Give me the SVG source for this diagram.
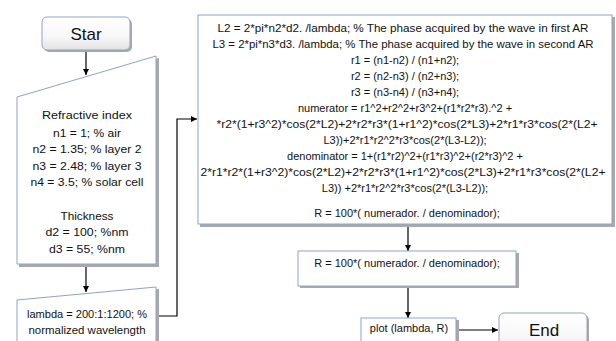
<svg xmlns="http://www.w3.org/2000/svg" width="616" height="341" viewBox="0 0 616 341">
  <style>
    .box { fill: #ffffff; stroke: #8ea3c9; stroke-width: 1; }
    .shadow { fill: #a9a9a9; }
    .txt { font-family: "Liberation Sans", Arial, sans-serif; font-size: 11px; fill: #111111; text-anchor: middle; }
    .big { font-size: 17px; }
    .conn { fill: none; stroke: #000000; stroke-width: 1.2; }
  </style>
  <defs>
    <linearGradient id="termFill" x1="0" y1="0" x2="0" y2="1">
      <stop offset="0" stop-color="#ffffff"/>
      <stop offset="0.6" stop-color="#f7f7f7"/>
      <stop offset="1" stop-color="#e2e2e2"/>
    </linearGradient>
    <marker id="arrow" markerWidth="6" markerHeight="6" refX="6" refY="3" orient="auto" markerUnits="userSpaceOnUse">
      <path d="M0,0 L6,3 L0,6 z" fill="#000000"/>
    </marker>
  </defs>

  <rect width="616" height="341" fill="#ffffff"/>

  <!-- connectors -->
  <g id="connectors">
    <line class="conn" x1="86" y1="50" x2="86" y2="75" marker-end="url(#arrow)"/>
    <line class="conn" x1="86" y1="266" x2="86" y2="292" marker-end="url(#arrow)"/>
    <path class="conn" d="M157,316 H177 V119 H197" marker-end="url(#arrow)"/>
    <line class="conn" x1="408" y1="226" x2="408" y2="251" marker-end="url(#arrow)"/>
    <line class="conn" x1="408" y1="288" x2="408" y2="318" marker-end="url(#arrow)"/>
    <line class="conn" x1="458" y1="330" x2="498" y2="330" marker-end="url(#arrow)"/>
  </g>

  <!-- start terminal -->
  <g id="start">
    <rect class="shadow" x="44" y="19" width="88" height="33" rx="5"/>
    <rect x="42" y="17" width="88" height="33" rx="5" fill="url(#termFill)" stroke="#8ea3c9" stroke-width="1"/>
    <text class="txt big" x="86" y="40">Star</text>
  </g>

  <!-- input: refractive indices and thicknesses -->
  <g id="inputs">
    <polygon class="shadow" points="19,99 159,58 159,267 19,267"/>
    <polygon class="box" points="17,97 156,56 156,264 17,264"/>
    <text class="txt" x="87" y="119" textLength="90" lengthAdjust="spacingAndGlyphs">Refractive index</text>
    <text class="txt" x="87" y="137" textLength="68" lengthAdjust="spacingAndGlyphs">n1 = 1; % air</text>
    <text class="txt" x="87" y="153" textLength="109" lengthAdjust="spacingAndGlyphs">n2 = 1.35; % layer 2</text>
    <text class="txt" x="87" y="170" textLength="109" lengthAdjust="spacingAndGlyphs">n3 = 2.48; % layer 3</text>
    <text class="txt" x="87" y="186" textLength="113" lengthAdjust="spacingAndGlyphs">n4 = 3.5; % solar cell</text>
    <text class="txt" x="87" y="220" textLength="53" lengthAdjust="spacingAndGlyphs">Thickness</text>
    <text class="txt" x="87" y="236" textLength="83" lengthAdjust="spacingAndGlyphs">d2 = 100; %nm</text>
    <text class="txt" x="87" y="253" textLength="76" lengthAdjust="spacingAndGlyphs">d3 = 55; %nm</text>
  </g>

  <!-- input: wavelength range -->
  <g id="wavelength">
    <polygon class="shadow" points="19,302 159,289 159,345 19,345"/>
    <polygon class="box" points="17,300 156,287 156,345 17,345"/>
    <text class="txt" x="87" y="318" textLength="120" lengthAdjust="spacingAndGlyphs">lambda = 200:1:1200; %</text>
    <text class="txt" x="87" y="334" textLength="117" lengthAdjust="spacingAndGlyphs">normalized wavelength</text>
  </g>

  <!-- reflectance computation -->
  <g id="compute">
    <rect class="shadow" x="200" y="17" width="415" height="210"/>
    <rect class="box" x="198" y="15" width="414" height="209"/>
    <text class="txt" x="403" y="32" textLength="371" lengthAdjust="spacingAndGlyphs">L2 = 2*pi*n2*d2. /lambda; % The phase acquired by the wave in first AR</text>
    <text class="txt" x="403" y="48" textLength="381" lengthAdjust="spacingAndGlyphs">L3 = 2*pi*n3*d3. /lambda; % The phase acquired by the wave in second AR</text>
    <text class="txt" x="405" y="64">r1 = (n1-n2) / (n1+n2);</text>
    <text class="txt" x="405" y="80">r2 = (n2-n3) / (n2+n3);</text>
    <text class="txt" x="405" y="96">r3 = (n3-n4) / (n3+n4);</text>
    <text class="txt" x="405" y="112">numerator = r1^2+r2^2+r3^2+(r1*r2*r3).^2 +</text>
    <text class="txt" x="407" y="128" textLength="381" lengthAdjust="spacingAndGlyphs">*r2*(1+r3^2)*cos(2*L2)+2*r2*r3*(1+r1^2)*cos(2*L3)+2*r1*r3*cos(2*(L2+</text>
    <text class="txt" x="405" y="144">L3))+2*r1*r2^2*r3*cos(2*(L3-L2));</text>
    <text class="txt" x="405" y="160">denominator = 1+(r1*r2)^2+(r1*r3)^2+(r2*r3)^2 +</text>
    <text class="txt" x="403" y="176" textLength="405" lengthAdjust="spacingAndGlyphs">2*r1*r2*(1+r3^2)*cos(2*L2)+2*r2*r3*(1+r1^2)*cos(2*L3)+2*r1*r3*cos(2*(L2+</text>
    <text class="txt" x="405" y="192">L3)) +2*r1*r2^2*r3*cos(2*(L3-L2));</text>
    <text class="txt" x="407" y="217">R = 100*( numerador. / denominador);</text>
  </g>

  <!-- reflectance percentage -->
  <g id="reflectance">
    <rect class="shadow" x="300" y="253" width="219" height="35"/>
    <rect class="box" x="298" y="251" width="218" height="35"/>
    <text class="txt" x="407" y="267">R = 100*( numerador. / denominador);</text>
  </g>

  <!-- plot step -->
  <g id="plot">
    <rect class="shadow" x="363" y="320" width="96" height="30"/>
    <rect class="box" x="361" y="318" width="95" height="30"/>
    <text class="txt" x="409" y="332">plot (lambda, R)</text>
  </g>

  <!-- end terminal -->
  <g id="end">
    <rect class="shadow" x="501" y="315" width="88" height="40" rx="5"/>
    <rect x="499" y="313" width="88" height="40" rx="5" fill="url(#termFill)" stroke="#8ea3c9" stroke-width="1"/>
    <text class="txt big" x="544" y="336">End</text>
  </g>
</svg>
